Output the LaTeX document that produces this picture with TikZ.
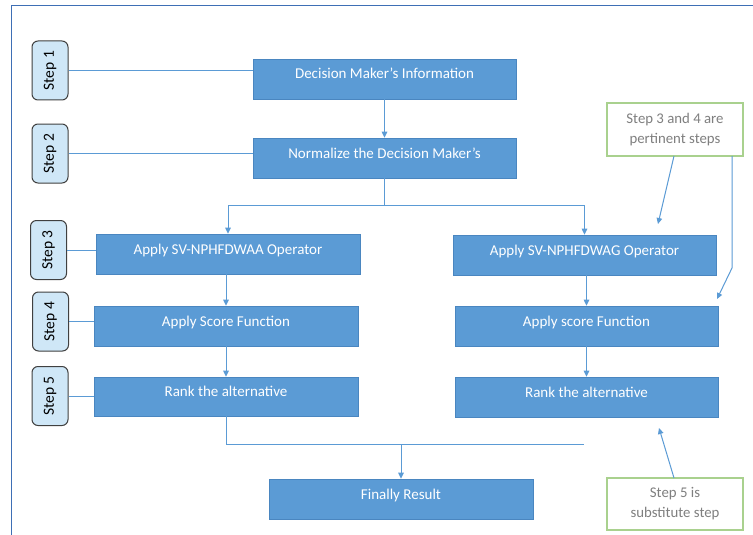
\documentclass[tikz,border=0pt]{standalone}
\usepackage{fontspec}
\setmainfont{Carlito}
\usetikzlibrary{arrows.meta}
\definecolor{boxblue}{HTML}{5B9BD5}
\definecolor{boxedge}{HTML}{4A86C0}
\definecolor{stepfill}{HTML}{CFE7F7}
\definecolor{stepedge}{HTML}{404040}
\definecolor{linkblue}{HTML}{5B9BD5}
\definecolor{framecol}{HTML}{3E6FB5}
\definecolor{notegreen}{HTML}{A9D18E}
\definecolor{notetext}{HTML}{7F7F7F}
\tikzset{
  bluebox/.style={draw=boxedge, line width=0.6pt, fill=boxblue, text=white, font=\fontsize{15}{18}\selectfont, inner sep=0pt, minimum height=40pt, text height=11pt, text depth=11pt, anchor=center},
  stepbox/.style={draw=stepedge, line width=1pt, fill=stepfill, rounded corners=6pt, minimum width=36pt, minimum height=59pt, inner sep=0pt},
  steplabel/.style={rotate=90, font=\fontsize{15.5}{18}\selectfont, text=black},
  notebox/.style={draw=notegreen, line width=1.2pt, fill=white, text=notetext, font=\fontsize{14.8}{20}\selectfont, align=center, minimum width=136pt, inner sep=0pt},
  link/.style={draw=linkblue, line width=1pt},
  arr/.style={link, -{Triangle[length=6pt,width=5.5pt]}},
}
\begin{document}
\begin{tikzpicture}[x=1pt,y=-1pt]
\useasboundingbox[fill=white] (0,0) rectangle (753,535);
% frame
\draw[framecol, line width=0.9pt] (11,535) -- (11,5) -- (753,5);

% step boxes
\node[stepbox] (s1) at (50,70.5) {};
\node[steplabel] at (s1.center) {Step 1};
\node[stepbox] (s2) at (50,153.5) {};
\node[steplabel] at (s2.center) {Step 2};
\node[stepbox] (s3) at (48.5,250) {};
\node[steplabel] at (s3.center) {Step 3};
\node[stepbox] (s4) at (50.5,321.5) {};
\node[steplabel] at (s4.center) {Step 4};
\node[stepbox] (s5) at (50,396) {};
\node[steplabel] at (s5.center) {Step 5};

% blue boxes
\node[bluebox, minimum width=263pt] (dm) at (384.5,79) {Decision Maker's Information};
\node[bluebox, minimum width=263pt] (norm) at (384.5,158) {Normalize the Decision Maker's};
\node[bluebox, minimum width=264pt] (waa) at (228,254) {Apply SV-NPHFDWAA Operator};
\node[bluebox, minimum width=264pt] (scl) at (226,326) {Apply Score Function};
\node[bluebox, minimum width=264pt, minimum height=39pt] (rkl) at (226,396.5) {Rank the alternative};
\node[bluebox, minimum width=263pt] (wag) at (584.5,255) {Apply SV-NPHFDWAG Operator};
\node[bluebox, minimum width=263pt] (scr) at (586.5,326) {Apply score Function};
\node[bluebox, minimum width=263pt] (rkr) at (586.5,397) {Rank the alternative};
\node[bluebox, minimum width=264pt] (fin) at (401,499) {Finally Result};

% notes
\node[notebox, minimum height=53pt] (g1) at (675,129.5) {Step 3 and 4 are\\pertinent steps};
\node[notebox, minimum height=52pt] (g2) at (675,504) {Step 5 is\\substitute step};

% step connectors
\draw[link] (s1.east) -- (s1.east -| dm.west);
\draw[link] (s2.east) -- (s2.east -| norm.west);
\draw[link] (s3.east) -- (s3.east -| waa.west);
\draw[link] (s4.east) -- (s4.east -| scl.west);
\draw[link] (s5.east) -- (s5.east -| rkl.west);

% main flow
\draw[arr] (dm.south) -- (norm.north);
\coordinate (split) at (384.5,205);
\draw[link] (norm.south) -- (split);
\draw[arr] (split) -| (waa.north);
\draw[arr] (split) -| (wag.north);
\draw[arr] (waa.south -| scl.north) -- (scl.north);
\draw[arr] (scl.south) -- (rkl.north);
\draw[arr] (wag.south -| scr.north) -- (scr.north);
\draw[arr] (scr.south) -- (rkr.north);

\coordinate (rend) at (584,444);
\draw[link] (rkl.south) |- (rend);
\draw[arr] (fin.north |- rend) -- (fin.north);

% note pointers
\coordinate (g1a) at (674,156);
\coordinate (t1) at (658,224);
\draw[arr] (g1a) -- (t1);
\coordinate (g1b) at (732,156);
\coordinate (k1) at (732,268);
\coordinate (t2) at (717,299);
\draw[arr] (g1b) -- (k1) -- (t2);
\coordinate (g2a) at (674,478);
\coordinate (t3) at (659,428);
\draw[arr] (g2a) -- (t3);
\end{tikzpicture}
\end{document}
